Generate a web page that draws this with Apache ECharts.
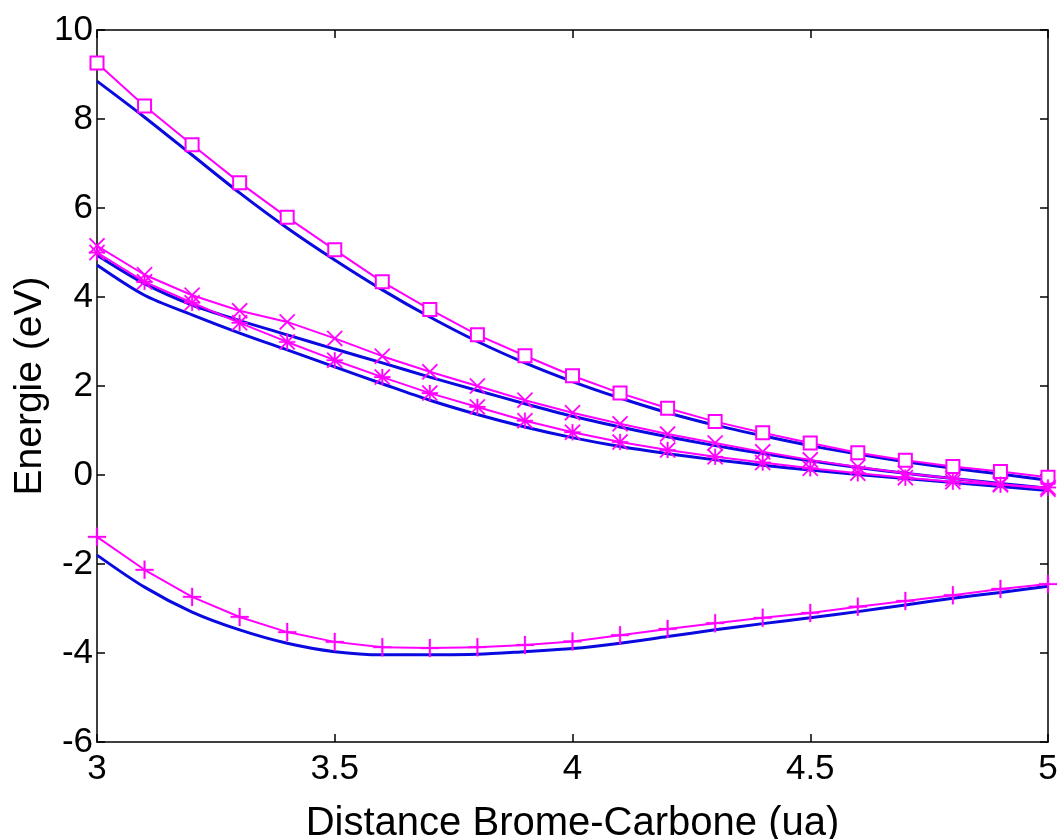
<!DOCTYPE html>
<html>
<head>
<meta charset="utf-8">
<script src="https://cdn.jsdelivr.net/npm/echarts@6/dist/echarts.min.js"></script>
<style>html,body{margin:0;padding:0;background:#fff;}#c{width:1061px;height:839px;}</style>
</head>
<body>
<div id="c"></div>
<script>
const xs = [3.0,3.1,3.2,3.3,3.4,3.5,3.6,3.7,3.8,3.9,4.0,4.1,4.2,4.3,4.4,4.5,4.6,4.7,4.8,4.9,5.0];
const xTicks = [3, 3.5, 4, 4.5, 5];
const yTicks = [-6,-4,-2,0,2,4,6,8,10];

const magSquare = [9.26,8.29,7.42,6.57,5.79,5.06,4.34,3.72,3.15,2.68,2.23,1.84,1.50,1.20,0.95,0.72,0.50,0.33,0.19,0.08,-0.05];
const magCross  = [5.15,4.50,4.04,3.69,3.44,3.07,2.67,2.32,2.00,1.68,1.40,1.15,0.92,0.72,0.52,0.34,0.18,0.04,-0.08,-0.20,-0.32];
const magStar   = [5.00,4.34,3.87,3.42,2.99,2.58,2.20,1.84,1.53,1.22,0.96,0.74,0.56,0.41,0.28,0.15,0.04,-0.06,-0.15,-0.22,-0.28];
const magPlus   = [-1.39,-2.13,-2.74,-3.19,-3.53,-3.75,-3.87,-3.89,-3.87,-3.82,-3.74,-3.60,-3.46,-3.33,-3.21,-3.10,-2.96,-2.83,-2.70,-2.56,-2.45];

const blueTop = [8.85,8.04,7.19,6.34,5.55,4.83,4.16,3.55,3.00,2.52,2.10,1.73,1.40,1.12,0.88,0.66,0.47,0.30,0.15,0.02,-0.12];
const blueMid = [4.94,4.30,3.82,3.47,3.15,2.83,2.52,2.20,1.90,1.60,1.32,1.08,0.86,0.66,0.48,0.32,0.17,0.04,-0.08,-0.19,-0.30];
const blueLow = [4.72,4.04,3.60,3.19,2.81,2.43,2.05,1.68,1.36,1.08,0.84,0.64,0.48,0.34,0.22,0.11,0.01,-0.08,-0.17,-0.26,-0.35];
const blueBot = [-1.80,-2.52,-3.08,-3.48,-3.78,-3.97,-4.04,-4.04,-4.03,-3.97,-3.90,-3.78,-3.63,-3.48,-3.34,-3.21,-3.07,-2.92,-2.77,-2.64,-2.50];

const pair = arr => xs.map((x,i)=>[x,arr[i]]);
const MAG = '#ff00ff', BLUE = '#0a0ae0';
const FONT = 'Arial, "Liberation Sans", sans-serif';

const SYM_PLUS = 'path://M0,9H20V11H0Z M9,0H11V20H9Z';
const SYM_X = 'path://M1.4,0L20,18.6L18.6,20L0,1.4Z M18.6,0L20,1.4L1.4,20L0,18.6Z';
const SYM_STAR = 'path://M0,9H20V11H0Z M9,0H11V20H9Z M1.4,0L20,18.6L18.6,20L0,1.4Z M18.6,0L20,1.4L1.4,20L0,18.6Z';

function blue(arr){
  return {type:'line', data:pair(arr), smooth:0.3, showSymbol:false, symbol:'none',
    lineStyle:{color:BLUE, width:3}, z:2, silent:true, animation:false};
}
function mag(arr, sym, size, empty){
  return {type:'line', data:pair(arr), symbol:sym, symbolSize:size, showSymbol:true,
    lineStyle:{color:MAG, width:2},
    itemStyle: empty ? {color:MAG, borderColor:MAG, borderWidth:1.8} : {color:MAG, borderColor:MAG, borderWidth:0.3},
    z:3, silent:true, animation:false};
}

const chart = echarts.init(document.getElementById('c'), null, {renderer:'canvas'});
const axisCommon = {
  axisLine:{show:true, onZero:false, lineStyle:{color:'#000', width:1.5}},
  axisTick:{show:true, inside:true, length:8, lineStyle:{color:'#000', width:1.5}},
  splitLine:{show:false}
};
chart.setOption({
  backgroundColor:'#fff',
  animation:false,
  grid:{left:97, right:13, top:30, bottom:97, show:false, containLabel:false, outerBoundsMode:'none'},
  xAxis:[
    Object.assign({type:'value', min:3, max:5, interval:0.5, position:'bottom',
      name:'Distance Brome-Carbone (ua)', nameLocation:'middle', nameGap:62, nameMoveOverlap:false,
      nameTextStyle:{fontFamily:FONT, fontSize:40, color:'#000'},
      axisLabel:{fontFamily:FONT, fontSize:35, color:'#000', margin:10,
        formatter: v => xTicks.includes(v) ? String(v) : ''}}, axisCommon),
    Object.assign({type:'value', min:3, max:5, interval:0.5, position:'top', axisLabel:{show:false}}, axisCommon)
  ],
  yAxis:[
    Object.assign({type:'value', min:-6, max:10, interval:2, position:'left',
      name:'Energie (eV)', nameLocation:'middle', nameGap:47, nameRotate:90, nameMoveOverlap:false,
      nameTextStyle:{fontFamily:FONT, fontSize:39, color:'#000'},
      axisLabel:{fontFamily:FONT, fontSize:35, color:'#000', margin:4,
        formatter: v => yTicks.includes(v) ? String(v) : ''}}, axisCommon),
    Object.assign({type:'value', min:-6, max:10, interval:2, position:'right', axisLabel:{show:false}}, axisCommon)
  ],
  series:[
    blue(blueTop), blue(blueMid), blue(blueLow), blue(blueBot),
    mag(magSquare, 'emptyRect', 13, true),
    mag(magCross, SYM_X, 16, false),
    mag(magStar, SYM_STAR, 16, false),
    mag(magPlus, SYM_PLUS, 18, false)
  ]
});
</script>
</body>
</html>
